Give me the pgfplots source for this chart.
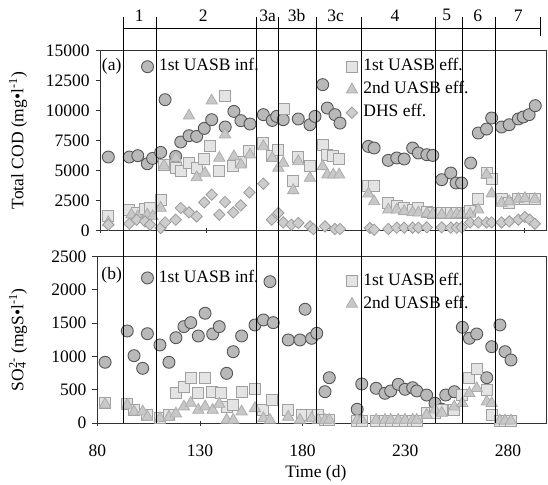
\documentclass[border=0pt]{standalone}
\usepackage{fontspec}
\setmainfont{Liberation Serif}
\usepackage{pgfplots}
\pgfplotsset{compat=1.18}
\definecolor{cinf}{RGB}{185,185,185}
\definecolor{einf}{RGB}{85,85,85}
\definecolor{csq}{RGB}{228,228,228}
\definecolor{esq}{RGB}{160,160,160}
\definecolor{ctri}{RGB}{200,200,200}
\definecolor{etri}{RGB}{172,172,172}
\definecolor{cdia}{RGB}{205,205,205}
\definecolor{edia}{RGB}{155,155,155}
\pgfplotsset{
 infstyle/.style={only marks, mark=*, mark size=6pt, mark options={fill=cinf, draw=einf, line width=0.9pt}},
 sqstyle/.style={only marks, mark=square*, mark size=5.5pt, mark options={fill=csq, draw=esq, line width=0.9pt}},
 tristyle/.style={only marks, mark=triangle*, mark size=6.5pt, mark options={fill=ctri, draw=etri, line width=0.8pt}},
 diastyle/.style={only marks, mark=square*, mark size=4pt, mark options={rotate=45, fill=cdia, draw=edia, line width=0.8pt}},
 panel/.style={scale only axis, axis line style={draw=black!80, line width=1pt},
   tick pos=left, xtick align=center, ytick align=outside, major tick length=5pt,
   tick style={draw=black!80, line width=0.8pt},
   /pgf/number format/assume math mode=true, /pgf/number format/1000 sep={},
   scaled y ticks=false, scaled x ticks=false,
   legend cell align=left,
   legend image code/.code={\path[draw=none,fill=none] (-6pt,-6pt) rectangle (6pt,6pt); \draw[##1] plot coordinates {(0pt,0pt)};},
   legend style={draw=none, fill=none, inner sep=0pt, row sep=6.5pt,
     nodes={inner sep=0pt, text height=12.5pt, text depth=4pt},
     /tikz/every odd column/.append style={column sep=5.5pt}},
 },
}
\begin{document}
\fontsize{17.5}{21}\selectfont
\begin{tikzpicture}
\useasboundingbox (0pt,0pt) rectangle (548pt,-484pt);
% ---------- panel (a)
\begin{axis}[panel, at={(100.7pt,-230.7pt)}, anchor=south west,
  width=445.8pt, height=180pt, xmin=80, xmax=290.5, ymin=0, ymax=15000,
  ytick={0,2500,...,15000}, xtick={80,130,180,230,280}, xticklabels={},
  ylabel={Total COD (mg•l\textsuperscript{-1})},
  ylabel style={at={(axis description cs:-0.1855,0.5)}, anchor=center},
  legend style={at={(0.5496,0.958)}, anchor=north west}]
\addplot[infstyle, forget plot] coordinates {
(83.6,6140) (93.5,6140) (97.5,6250) (102.0,5580) (104.5,6025) (108.3,6525) (110.4,10917)
(115.4,6190) (117.8,7390) (121.7,7917) (125.3,7860) (128.9,8525) (132.4,9250) (138.8,8640)
(142.9,9940) (146.2,9170) (150.5,8890) (156.8,9670) (161.0,9190) (163.1,9525) (166.2,9250)
(173.3,9310) (178.8,8830) (181.2,9525) (184.8,12170) (187.0,10220) (190.6,9670) (193.0,8970)
(206.4,7025) (209.1,6890) (215.8,5860) (219.8,6060) (223.3,5975) (227.3,6890) (230.0,6475)
(234.0,6333) (236.8,6275) (241.0,4250) (245.3,4808) (247.8,3975) (250.4,3975) (254.7,5640)
(258.3,8140) (262.2,8470) (264.6,9390) (269.3,8640) (272.9,8830) (277.2,9310) (279.5,9475)
(282.3,9670) (285.2,10420)};
\addplot[sqstyle] coordinates {
(83.6,1190) (93.5,1750) (97.0,1475) (100.9,1808) (103.3,1890) (108.3,2525) (109.9,5500)
(115.4,5225) (117.8,4940) (121.7,5640) (125.3,5225) (128.9,5975) (131.6,7083) (136.0,5000)
(138.7,11250) (142.6,5417) (146.1,5690) (150.2,6610) (156.8,7308) (160.8,6190) (163.9,6750)
(166.6,10140) (170.6,4110) (173.3,6140) (178.8,5417) (184.8,7170) (186.7,6333) (189.8,6190)
(192.6,6000) (206.4,3690) (209.1,3690) (215.8,2308) (219.8,2025) (223.3,1890) (227.3,1750)
(230.0,1890) (234.0,1525) (236.8,1475) (241.0,1475) (245.3,1475) (248.1,1475) (250.4,1475)
(254.4,1610) (258.3,2640) (262.2,4808) (264.6,4308) (269.3,2640) (272.9,2308) (277.2,2640)
(280.3,2640) (285.0,2640)};
\addlegendentry{1st UASB eff.}
\addplot[tristyle] coordinates {
(83.6,690) (94.5,1333) (97.5,1190) (102.0,1333) (104.5,1190) (108.3,1890) (109.9,5417)
(115.4,6060) (121.7,9580) (125.3,4440) (129.2,4808) (132.4,10830) (136.0,6060) (138.7,8000)
(142.9,6190) (146.2,5500) (150.5,6333) (156.8,7025) (161.0,6060) (163.9,5225) (166.2,5640)
(170.9,3360) (173.3,5775) (178.8,4390) (184.8,5360) (187.0,4667) (189.8,4667) (192.6,4667)
(206.4,3083) (209.1,2440) (215.8,1750) (219.8,1750) (223.3,1610) (227.3,1525) (230.0,1500)
(234.0,1440) (236.8,1400) (241.0,1330) (245.3,1330) (248.1,1400) (250.4,1400) (254.4,1400)
(258.3,1750) (262.2,4667) (264.6,3083) (269.3,2308) (272.9,2440) (277.2,2640) (280.3,2700)
(285.0,2640)};
\addlegendentry{2nd UASB eff.}
\addplot[diastyle] coordinates {
(83.6,500) (93.5,583) (97.0,917) (100.9,775) (103.3,500) (108.3,225) (110.4,690)
(115.4,917) (117.8,1890) (121.7,1525) (125.3,1190) (128.9,2360) (132.4,3000) (136.0,1333)
(138.7,2390) (142.6,1525) (146.1,2110) (150.2,3190) (156.8,3917) (160.8,917) (163.9,1475)
(166.2,690) (170.0,500) (173.3,642) (178.8,358) (180.4,142) (185.9,358) (190.6,142)
(193.0,142) (207.1,225) (209.1,83) (215.8,142) (219.8,250) (223.3,250) (227.3,250)
(230.0,250) (234.0,280) (241.0,280) (245.3,250) (248.1,250) (250.4,280) (254.4,690)
(258.3,690) (262.2,690) (264.6,690) (269.3,690) (272.9,775) (277.2,917) (280.3,1140)
(282.6,917) (285.0,583)};
\addlegendentry{DHS eff.}
\end{axis}
\begin{axis}[panel, hide axis, at={(100.7pt,-230.7pt)}, anchor=south west,
  width=445.8pt, height=180pt, xmin=80, xmax=290.5, ymin=0, ymax=15000,
  legend style={at={(0.0911,0.958)}, anchor=north west}]
\addlegendimage{infstyle}
\addlegendentry{1st UASB inf.}
\end{axis}
% ---------- panel (b)
\begin{axis}[panel, at={(97.3pt,-423pt)}, anchor=south west,
  width=448.7pt, height=166.5pt, xmin=80, xmax=298.55, ymin=0, ymax=2500,
  ytick={0,500,...,2500}, xtick={80,130,180,230,280},
  xticklabel style={yshift=-13pt},
  xlabel={Time (d)},
  xlabel style={at={(axis description cs:0.487,-0.30)}, anchor=center},
  ylabel={SO\rlap{\textsubscript{4}}\textsuperscript{2-} (mgS•l\textsuperscript{-1})},
  ylabel style={at={(axis description cs:-0.1767,0.5)}, anchor=center},
  legend style={at={(0.5536,0.904)}, anchor=north west}]
\addplot[infstyle, forget plot] coordinates {
(83.8,912) (94.6,1382) (97.9,1011) (102.1,821) (104.4,1341) (110.5,1172) (114.9,912)
(118.3,1281) (122.2,1447) (125.5,1507) (129.2,1307) (132.5,1648) (136.2,1337) (139.4,1447)
(143.0,746) (146.2,1071) (150.3,1307) (156.8,1472) (160.9,1547) (164.1,2122) (165.7,1507)
(173.0,1247) (178.7,1247) (181.2,1708) (184.4,1272) (186.9,1347) (190.9,470) (193.0,680)
(206.6,206) (208.8,586) (215.8,521) (220.1,446) (222.9,481) (226.6,581) (229.9,506)
(233.6,530) (235.6,481) (240.4,420) (244.5,296) (247.8,206) (249.7,420) (253.9,470)
(257.8,1437) (261.2,1272) (264.8,1337) (269.7,680) (272.1,1146) (276.1,1472) (278.6,1071)
(281.5,946)};
\addplot[sqstyle] coordinates {
(83.8,296) (94.6,285) (97.9,195) (104.4,120) (110.5,70) (114.9,120) (118.3,446)
(122.2,546) (125.5,671) (129.2,446) (132.5,671) (135.7,470) (140.1,446) (143.0,245)
(146.2,270) (150.3,461) (156.8,506) (160.9,195) (164.9,345) (173.0,195) (179.6,120)
(184.4,120) (187.6,120) (190.9,45) (193.0,45) (206.6,30) (208.8,30) (215.8,30)
(220.1,30) (222.9,30) (226.6,30) (229.9,30) (233.6,30) (235.6,30) (240.4,155)
(244.5,155) (247.8,200) (253.9,200) (257.8,420) (261.2,671) (264.8,806) (269.7,495)
(272.1,120) (276.1,30) (278.6,30) (281.5,30)};
\addlegendentry{1st UASB eff.}
\addplot[tristyle] coordinates {
(83.8,285) (94.6,270) (97.9,170) (102.1,170) (104.4,90) (110.5,70) (114.9,90)
(118.3,140) (122.2,245) (125.5,300) (129.2,195) (132.5,245) (136.2,195) (139.4,285)
(143.0,45) (146.2,45) (150.3,170) (156.8,220) (160.9,70) (164.1,45) (173.0,90)
(178.7,45) (184.4,70) (187.6,45) (190.9,45) (193.0,45) (206.6,45) (208.8,45)
(215.8,45) (220.1,45) (222.9,45) (226.6,45) (229.9,45) (233.6,45) (235.6,45)
(240.4,120) (244.5,200) (247.8,150) (253.9,245) (257.8,296) (261.2,446) (264.8,521)
(269.7,320) (272.1,296) (276.1,35) (278.6,35) (281.5,35)};
\addlegendentry{2nd UASB eff.}
\end{axis}
\begin{axis}[panel, hide axis, at={(97.3pt,-423pt)}, anchor=south west,
  width=448.7pt, height=166.5pt, xmin=80, xmax=298.55, ymin=0, ymax=2500,
  legend style={at={(0.098,0.922)}, anchor=north west}]
\addlegendimage{infstyle}
\addlegendentry{1st UASB inf.}
\end{axis}
% ---------- panel tags and phase bar
\node at (111.7pt,-66pt) {(a)};
\node at (111.7pt,-275pt) {(b)};
\begin{scope}[line width=1pt, black]
\foreach \px in {123.3,156.7,256.7,278.3,316,361,435,462.7,495} {
  \draw (\px pt,-17pt) -- (\px pt,-423pt);
}
\draw (540pt,-17pt) -- (540pt,-36pt);
\draw (123.3pt,-28.3pt) -- (540pt,-28.3pt);
\end{scope}
\foreach \px/\lab in {139.3/1,203.3/2,267.7/3a,296.7/3b,335.7/3c,395/4,446.7/5,477.7/6,518.3/7} {
  \node at (\px pt,-15.3pt) {\lab};
}
\end{tikzpicture}
\end{document}
